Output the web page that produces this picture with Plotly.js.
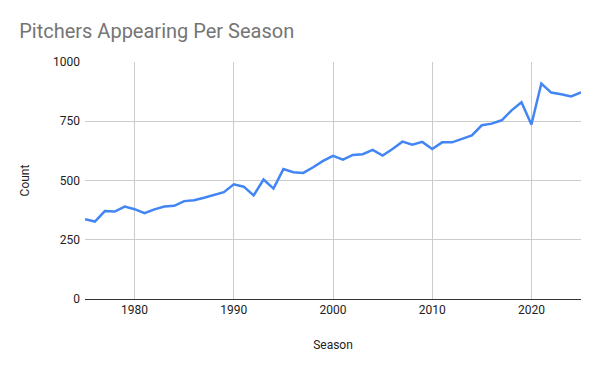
<!DOCTYPE html>
<html>
<head>
<meta charset="utf-8">
<script src="https://cdn.plot.ly/plotly-3.0.1.min.js"></script>
<style>html,body{margin:0;padding:0;background:#fff}#chart{width:600px;height:371px}</style>
</head>
<body>
<div id="chart"></div>
<script>
const seasons = [1975,1976,1977,1978,1979,1980,1981,1982,1983,1984,1985,1986,1987,1988,1989,
  1990,1991,1992,1993,1994,1995,1996,1997,1998,1999,2000,2001,2002,2003,2004,2005,2006,2007,2008,2009,
  2010,2011,2012,2013,2014,2015,2016,2017,2018,2019,2020,2021,2022,2023,2024,2025];
const pitchers = [337,327,371,369,390,379,362,378,390,393,413,417,427,438,451,
  484,474,437,504,466,548,535,532,556,583,604,588,608,611,629,605,633,664,651,663,
  633,661,661,677,690,733,740,754,796,830,736,909,871,864,855,872];
const xTicks = [1980,1990,2000,2010,2020];
const yTicks = [0,250,500,750,1000];

const fontFam = 'Roboto, Arial, sans-serif';
Plotly.newPlot('chart', [{
  x: seasons, y: pitchers, type: 'scatter', mode: 'lines',
  line: {color: '#4285F4', width: 2.5}, hoverinfo: 'x+y'
}], {
  width: 600, height: 371,
  margin: {l: 85, r: 19, t: 62, b: 72},
  paper_bgcolor: '#fff', plot_bgcolor: '#fff',
  font: {family: fontFam, size: 12, color: '#222'},
  title: {text: 'Pitchers Appearing Per Season', x: 0.032, xanchor: 'left', y: 0.935, yanchor: 'top',
          font: {family: fontFam, size: 20, color: '#757575'}},
  showlegend: false,
  xaxis: {
    range: [1975, 2025], tickvals: xTicks, ticktext: xTicks.map(String),
    showgrid: true, gridcolor: '#cccccc', gridwidth: 1, zeroline: false,
    showline: false, ticks: '', ticklabelstandoff: 2,
    tickfont: {family: fontFam, size: 12, color: '#222'},
    title: {text: 'Season', standoff: 24, font: {family: fontFam, size: 12, color: '#222'}}
  },
  yaxis: {
    range: [0, 1000], tickvals: yTicks, ticktext: yTicks.map(String),
    showgrid: true, gridcolor: '#cccccc', gridwidth: 1,
    zeroline: true, zerolinecolor: '#333', zerolinewidth: 1,
    showline: false, ticks: '', ticklabelstandoff: 4,
    tickfont: {family: fontFam, size: 12, color: '#222'},
    title: {text: 'Count', standoff: 20, font: {family: fontFam, size: 12, color: '#222'}}
  }
}, {displayModeBar: false, staticPlot: true});
</script>
</body>
</html>
